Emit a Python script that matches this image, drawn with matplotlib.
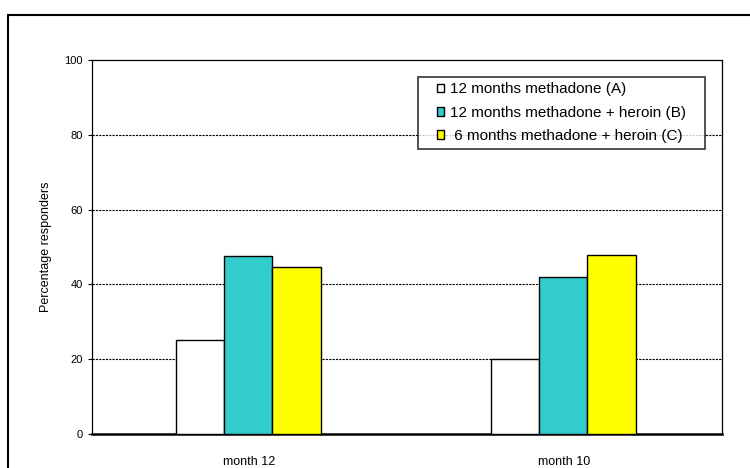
import matplotlib.pyplot as plt
from matplotlib.patches import Rectangle
from matplotlib.path import Path
import numpy as np

plt.rcParams['font.family'] = ['Liberation Sans', 'DejaVu Sans']

# Data
categories = ['month 12', 'month 10']
series_names = ['12 months methadone (A)',
                '12 months methadone + heroin (B)',
                ' 6 months methadone + heroin (C)']
values_a = [25.2, 20.0]
values_b = [47.7, 42.0]
values_c = [44.6, 47.8]
colors = ['white', '#33CCCC', '#FFFF00']

fig = plt.figure(figsize=(7.5, 4.68), dpi=100)
ax = fig.add_axes([0.1227, 0.0726, 0.84, 0.7992])

# outer frame of the chart area (runs off the right and bottom edge)
fig.patches.append(Rectangle((8 / 750, -0.05), 1.0, 1 - 15 / 468 + 0.05,
                             transform=fig.transFigure, fill=False,
                             edgecolor='black', linewidth=1.5))

x = np.arange(len(categories))
width = 0.153
for i, (vals, col, name) in enumerate(zip([values_a, values_b, values_c], colors, series_names)):
    ax.bar(x + (i - 1) * width - 0.004, vals, width, color=col, edgecolor='black',
           linewidth=1.0, label=name, zorder=3)

ax.set_xlim(-0.5, 1.5)
ax.set_ylim(0, 100)
ax.set_yticks([0, 20, 40, 60, 80, 100])
ax.set_xticks(x)
ax.set_xticklabels(categories, fontsize=9)
ax.tick_params(axis='x', length=0, pad=16)
ax.tick_params(axis='y', labelsize=8, length=3, direction='out')
ax.set_ylabel('Percentage responders', fontsize=9, labelpad=9)

for y in [20, 40, 60, 80]:
    ax.axhline(y, color='black', linestyle=(0, (2, 1)), linewidth=0.8, zorder=1)

for s in ['top', 'left', 'right']:
    ax.spines[s].set_linewidth(0.9)
ax.spines['bottom'].set_linewidth(1.8)

leg = ax.legend(loc='upper right', bbox_to_anchor=(0.963, 0.973), fontsize=11,
                frameon=True, fancybox=False, edgecolor='black',
                handlelength=0.5, handleheight=0.5, handletextpad=0.4,
                borderpad=0.3, labelspacing=0.62)
leg.get_frame().set_linewidth(1.2)


# legend frame with wider padding left/right than top/bottom
def wide_box(x0, y0, width, height, mutation_size):
    padx = 0.9 * mutation_size
    pady = 0.05 * mutation_size
    x0, x1 = x0 - padx, x0 + width + padx
    y0, y1 = y0 - pady, y0 + height + pady
    return Path([(x0, y0), (x1, y0), (x1, y1), (x0, y1), (x0, y0)], closed=True)


leg.get_frame().set_boxstyle(wide_box)

plt.savefig('out.png', dpi=100)
plt.close()
